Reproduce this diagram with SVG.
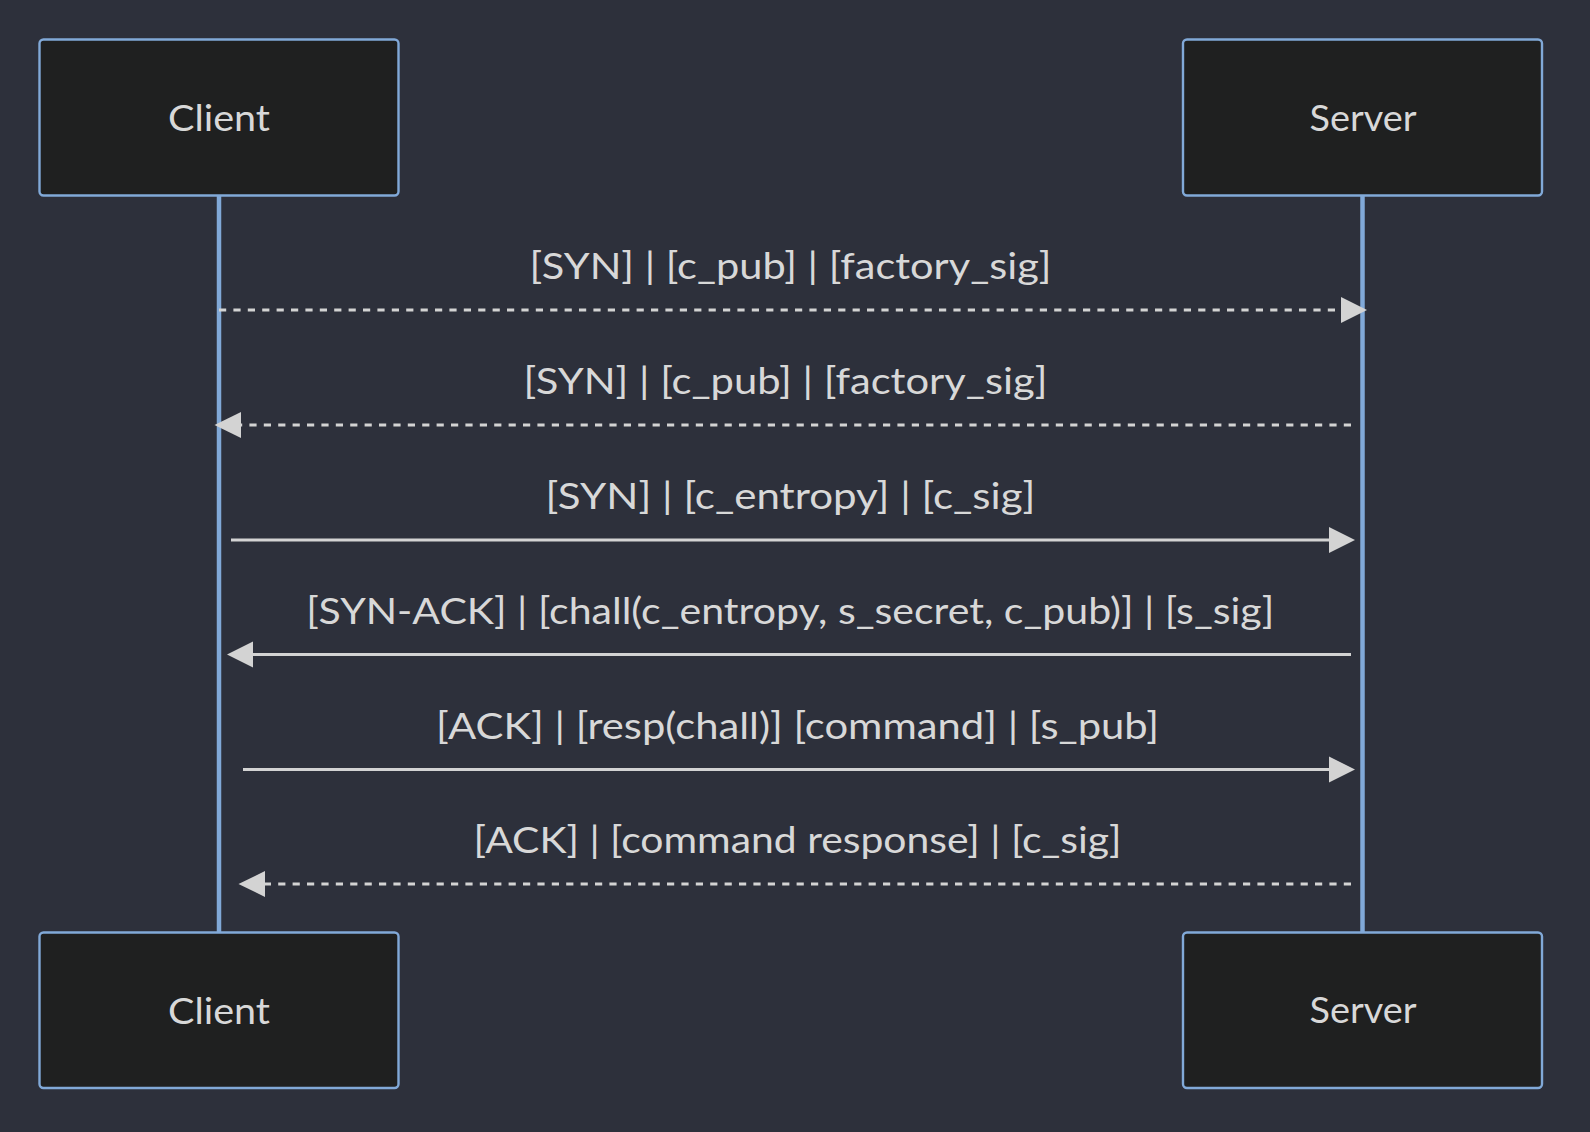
<svg xmlns="http://www.w3.org/2000/svg" width="1590" height="1132" viewBox="0 0 1590 1132">
<style>
.bg{fill:#2d303b}
.actor rect{fill:#1f2020;stroke:#81a9d8;stroke-width:2.4}
.actor text{fill:#d8d8d8;font-family:Lato,"Open Sans","Liberation Sans",sans-serif;font-size:37.5px;text-anchor:middle}
.lifeline{stroke:#81a9d8;stroke-width:4.5}
.msg line{stroke:#d3d3d3;stroke-width:3}
.msg .dash{stroke-dasharray:7.2 7.2}
.msg path{fill:#d3d3d3;stroke:none}
.lbl{fill:#d8d8d8;font-family:Lato,"Open Sans","Liberation Sans",sans-serif;font-size:37.5px;text-anchor:middle}
</style>
<rect class="bg" x="0" y="0" width="1590" height="1132"/>
<g id="lifelines">
<line class="lifeline" x1="219" y1="195.5" x2="219" y2="932.5"/>
<line class="lifeline" x1="1362.5" y1="195.5" x2="1362.5" y2="932.5"/>
</g>
<g id="actor-client-top" class="actor">
<rect x="39.5" y="39.5" width="359" height="156" rx="4"/>
<text x="219" y="131" textLength="102" lengthAdjust="spacingAndGlyphs">Client</text>
</g>
<g id="actor-server-top" class="actor">
<rect x="1183" y="39.5" width="359" height="156" rx="4"/>
<text x="1363" y="130.5" textLength="107" lengthAdjust="spacingAndGlyphs">Server</text>
</g>
<g id="actor-client-bottom" class="actor">
<rect x="39.5" y="932.5" width="359" height="155.5" rx="4"/>
<text x="219" y="1023.5" textLength="102" lengthAdjust="spacingAndGlyphs">Client</text>
</g>
<g id="actor-server-bottom" class="actor">
<rect x="1183" y="932.5" width="359" height="155.5" rx="4"/>
<text x="1363" y="1023" textLength="107" lengthAdjust="spacingAndGlyphs">Server</text>
</g>
<g id="connectors" class="msg">
<line class="dash" x1="219" y1="310" x2="1342" y2="310"/>
<path d="M1341,297 L1367,310 L1341,323 Z"/>
<line class="dash" x1="1351" y1="425" x2="240" y2="425"/>
<path d="M241,412 L214.5,425 L241,438 Z"/>
<line x1="231" y1="540" x2="1330" y2="540"/>
<path d="M1329,527 L1355,540 L1329,553 Z"/>
<line x1="1351" y1="654.5" x2="252" y2="654.5"/>
<path d="M253,641.5 L227,654.5 L253,667.5 Z"/>
<line x1="243" y1="769.5" x2="1330" y2="769.5"/>
<path d="M1329,756.5 L1355,769.5 L1329,782.5 Z"/>
<line class="dash" x1="1351" y1="884" x2="264" y2="884"/>
<path d="M265,871 L238.5,884 L265,897 Z"/>
</g>
<g id="labels">
<text class="lbl" x="790.5" y="279.3" textLength="522" lengthAdjust="spacingAndGlyphs">[SYN] | [c_pub] | [factory_sig]</text>
<text class="lbl" x="785.4" y="394.3" textLength="524" lengthAdjust="spacingAndGlyphs">[SYN] | [c_pub] | [factory_sig]</text>
<text class="lbl" x="790.4" y="509.3" textLength="490" lengthAdjust="spacingAndGlyphs">[SYN] | [c_entropy] | [c_sig]</text>
<text class="lbl" x="790.3" y="623.8" textLength="968" lengthAdjust="spacingAndGlyphs">[SYN-ACK] | [chall(c_entropy, s_secret, c_pub)] | [s_sig]</text>
<text class="lbl" x="797.6" y="738.8" textLength="723" lengthAdjust="spacingAndGlyphs">[ACK] | [resp(chall)] [command] | [s_pub]</text>
<text class="lbl" x="797.5" y="853.3" textLength="648" lengthAdjust="spacingAndGlyphs">[ACK] | [command response] | [c_sig]</text>
</g>
</svg>
